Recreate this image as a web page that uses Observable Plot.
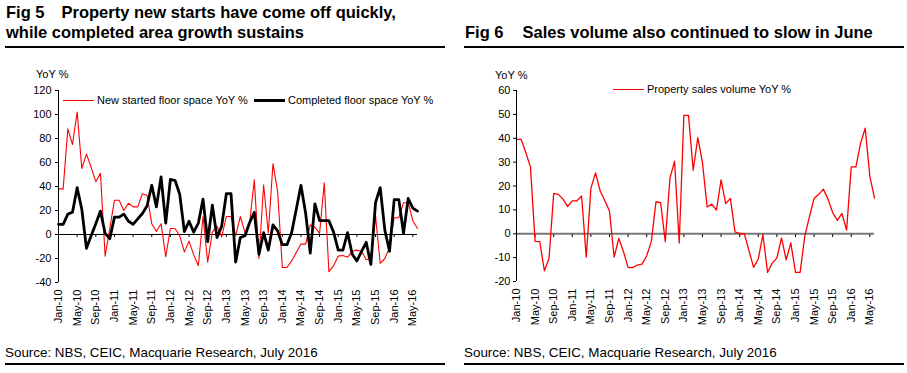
<!DOCTYPE html>
<html>
<head>
<meta charset="utf-8">
<script src="https://cdn.jsdelivr.net/npm/d3@7"></script>
<script src="https://cdn.jsdelivr.net/npm/@observablehq/plot@0.6"></script>
<style>
  html, body { margin: 0; padding: 0; background: #fff; }
  #wrap { position: relative; width: 907px; height: 373px; font-family: "Liberation Sans", Arial, sans-serif; color: #000; overflow: hidden; }
  .abs { position: absolute; white-space: nowrap; }
  .title { font-weight: bold; font-size: 16.5px; line-height: 19.7px; }
  .rule { background: #000; height: 2px; }
  .src { font-size: 13.4px; line-height: 15px; }
  .leg { font-size: 11px; line-height: 12px; }
  .unit { font-size: 11px; line-height: 12px; }
</style>
</head>
<body>
<div id="wrap">
  <div class="abs title" style="left:6px;top:3.4px;">Fig 5<span style="display:inline-block;width:17px"></span>Property new starts have come off quickly,<br>while completed area growth sustains</div>
  <div class="abs title" style="left:465px;top:23px;">Fig 6<span style="display:inline-block;width:19px"></span>Sales volume also continued to slow in June</div>
  <div class="abs rule" style="left:5px;top:46px;width:440px;"></div>
  <div class="abs rule" style="left:464px;top:46px;width:440px;"></div>

  <div id="c1" class="abs" style="left:0;top:60px;"></div>
  <div id="c2" class="abs" style="left:460px;top:60px;"></div>

  <div class="abs unit" style="left:36px;top:68px;">YoY %</div>
  <div class="abs unit" style="left:495px;top:69px;">YoY %</div>

  <div class="abs" style="left:63px;top:99.5px;width:31px;height:1px;background:#ff0000;"></div>
  <div class="abs leg" style="left:97px;top:94px;">New started floor space YoY %</div>
  <div class="abs" style="left:254px;top:98.5px;width:31px;height:3px;background:#000;"></div>
  <div class="abs leg" style="left:288px;top:94px;">Completed floor space YoY %</div>

  <div class="abs" style="left:613px;top:88.5px;width:31px;height:1.3px;background:#ff0000;"></div>
  <div class="abs leg" style="left:647px;top:83px;">Property sales volume YoY %</div>

  <div class="abs src" style="left:5px;top:345px;">Source: NBS, CEIC, Macquarie Research, July 2016</div>
  <div class="abs src" style="left:464px;top:345px;">Source: NBS, CEIC, Macquarie Research, July 2016</div>
  <div class="abs rule" style="left:5px;top:363px;width:440px;"></div>
  <div class="abs rule" style="left:464px;top:363px;width:440px;"></div>
</div>
<script>
// Month tick labels (every 4 months, Jan-10 .. May-16); monthly data Jan-10 .. Jun-16
const tickLabels = ["Jan-10","May-10","Sep-10","Jan-11","May-11","Sep-11","Jan-12","May-12","Sep-12","Jan-13","May-13","Sep-13","Jan-14","May-14","Sep-14","Jan-15","May-15","Sep-15","Jan-16","May-16"];
const tickIdx = tickLabels.map((_, k) => k * 4);

// Fig 5: New started floor space YoY %
const newStarts = [38,38,88,75,102,55,67,56,44,51,
  -18,5,28.5,28.5,20,26,23,23,34,32.5,
  9,2.5,9,-18.5,5,5,-1,-14.5,-5.5,-17,
  -26,15,-23,2,7,-2,15,15,-1,15,
  1.5,10,45.5,-20,41.5,1,59,36,-27.5,-27.5,
  -22,-15,-8,-8,8,6,1,43,-31,-26,
  -18,-17.5,-19,-14,-13,-14,-21,-20,15.5,-24,
  -20,-11,14,14,26.5,26.5,11.5,5];
// Fig 5: Completed floor space YoY %
const completed = [8.5,8.5,17,18.5,39,21,-11.5,-1,9,19.5,
  1,-3.5,14.5,14.5,17,11,8.5,13,17.5,24,
  41,23,48,9.5,46,45,33.5,2.5,11,2,
  9.5,29.5,-6,24.5,-2.5,7,34,34,-23,-2.5,
  -1,10,18.5,-16.5,1.5,-13,8,3,-8.5,-8.5,
  1.5,21,41,18,-15.5,25.5,11.5,11.5,11.5,2,
  -13,-13,1.5,-16.5,-22,-14,-6.5,-25,26.5,39,
  3.5,-14,29,29,1,30,22,19.5];
// Fig 6: Property sales volume YoY %
const sales = [39.5,39.5,34,28,-3.2,-3.3,-15.5,-10.3,16.9,16.5,
  14.5,11.4,13.8,13.8,15.8,-9.8,19,25.5,17.9,13.8,
  9.5,-9.8,-2,-7.4,-14.2,-14.2,-13.1,-12.7,-9.2,-3.3,
  13.4,13,-3.3,23.2,30.4,-3.9,49.6,49.6,26.6,40.3,
  29.8,11.2,12.4,9.9,22.6,12.6,14.8,0.8,0.1,0,
  -7.1,-14.1,-10.6,-0.3,-16.2,-12.3,-10.2,-1.7,-10.9,-3.8,
  -16.2,-16.2,-1.1,7.1,14.8,16.5,18.7,14.5,8.9,5.6,
  8.5,1.5,28,28,37.9,44.2,24,14.9];

const yTicks1 = [-40,-20,0,20,40,60,80,100,120];
const yTicks2 = [-20,-10,0,10,20,30,40,50,60];

const baseStyle = {fontFamily: '"Liberation Sans", Arial, sans-serif', fontSize: "11px", color: "#000", background: "transparent", overflow: "visible"};
const xOpts = {domain: [0, newStarts.length - 1], ticks: tickIdx, tickFormat: i => tickLabels[i / 4], tickRotate: -90, tickSize: 0, tickPadding: 7, label: null};
const idx = (d, i) => i;

const chart1 = Plot.plot({
  width: 450, height: 270,
  marginLeft: 58, marginRight: 33, marginTop: 30, marginBottom: 48,
  style: baseStyle,
  x: xOpts,
  y: {domain: [-40, 120], ticks: yTicks1, tickFormat: d => String(d), tickSize: 3, tickPadding: 4, label: null},
  marks: [
    Plot.ruleY([0], {stroke: "#000", strokeWidth: 1}),
    Plot.ruleX(tickIdx, {x: d => d, y1: 0, y2: -2.5, stroke: "#000"}),
    Plot.line(newStarts, {x: idx, y: d => d, stroke: "#ff0000", strokeWidth: 1.1}),
    Plot.line(completed, {x: idx, y: d => d, stroke: "#000", strokeWidth: 2.8}),
    Plot.ruleX([0], {stroke: "#000", strokeWidth: 1})
  ]
});
document.getElementById("c1").appendChild(chart1);

const chart2 = Plot.plot({
  width: 447, height: 270,
  marginLeft: 56, marginRight: 33, marginTop: 30, marginBottom: 49,
  style: baseStyle,
  x: xOpts,
  y: {domain: [-20, 60], ticks: yTicks2, tickFormat: d => String(d), tickSize: 3, tickPadding: 3, label: null},
  marks: [
    Plot.ruleY([0], {stroke: "#777", strokeWidth: 2}),
    Plot.ruleX(tickIdx, {x: d => d, y1: -0.4, y2: -1.6, stroke: "#000"}),
    Plot.line(sales, {x: idx, y: d => d, stroke: "#ff0000", strokeWidth: 1.3}),
    Plot.ruleX([0], {stroke: "#000", strokeWidth: 1})
  ]
});
document.getElementById("c2").appendChild(chart2);
</script>
</body>
</html>
